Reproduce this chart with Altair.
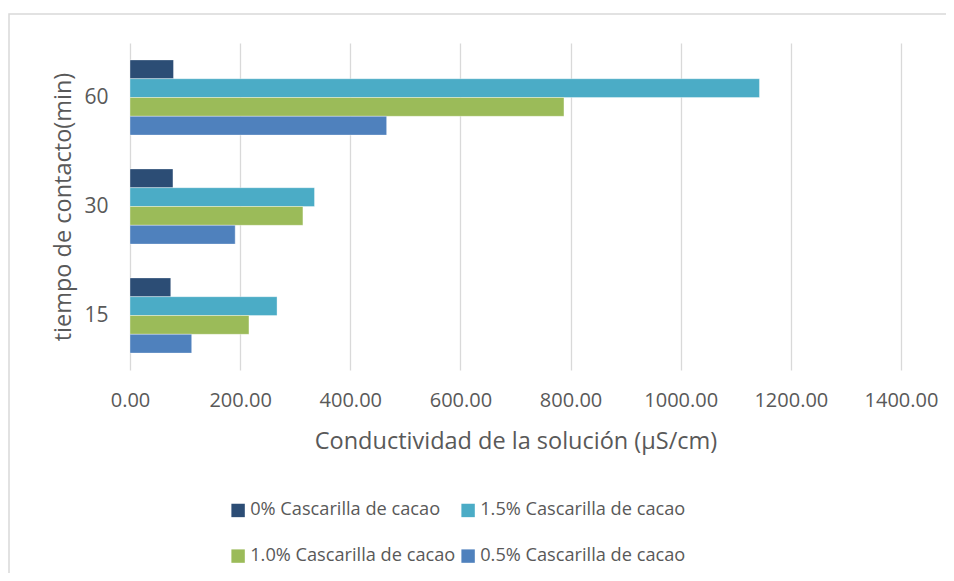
import altair as alt
import pandas as pd

tiempos = ["15", "30", "60"]
series = ["0% Cascarilla de cacao", "1.5% Cascarilla de cacao",
          "1.0% Cascarilla de cacao", "0.5% Cascarilla de cacao"]
v_0 = [74, 78, 79]
v_15 = [267, 335, 1143]
v_10 = [216, 314, 788]
v_05 = [112, 191, 466]
colores = ["#2C4D75", "#4BACC6", "#9BBB59", "#4F81BD"]

rows = []
for s, vals in zip(series, [v_0, v_15, v_10, v_05]):
    for t, v in zip(tiempos, vals):
        rows.append({"tiempo": t, "serie": s, "valor": v})
df = pd.DataFrame(rows)

FONT = "Open Sans"
TXT = "#595959"

frame = alt.Chart(pd.DataFrame({"a": [0]})).mark_rect(
    fill="white", fillOpacity=0, stroke="#D9D9D9", strokeWidth=1.5, clip=False
).encode(
    x=alt.value(-121), x2=alt.value(830), y=alt.value(-29), y2=alt.value(560)
)

bars = alt.Chart(df).mark_bar(stroke="white", strokeWidth=0.6, strokeOpacity=0.6).encode(
    y=alt.Y("tiempo:N", sort=["60", "30", "15"],
            scale=alt.Scale(paddingInner=0.31, paddingOuter=0.155),
            axis=alt.Axis(title="tiempo de contacto(min)", labelFontSize=21,
                          labelColor=TXT, labelPadding=22, ticks=False, domain=False,
                          titleFontSize=23.5, titleColor=TXT, titleFontWeight="normal",
                          titleAngle=-90, titleX=-67, titleY=163.5,
                          titleAlign="center", titleBaseline="middle",
                          labelFont=FONT, titleFont=FONT, grid=False)),
    yOffset=alt.YOffset("serie:N", sort=series),
    x=alt.X("valor:Q", scale=alt.Scale(domain=[0, 1400], nice=False),
            axis=alt.Axis(title="Conductividad de la solución (µS/cm)",
                          values=[0, 200, 400, 600, 800, 1000, 1200, 1400],
                          format=".2f", labelFontSize=20, labelColor=TXT,
                          labelPadding=20, ticks=False, domain=False,
                          labelOverlap=False, labelFlush=False,
                          gridColor="#D9D9D9", gridWidth=1.3,
                          titleFontSize=23.5, titleColor=TXT, titleFontWeight="normal",
                          titleY=71, titleBaseline="middle",
                          labelFont=FONT, titleFont=FONT)),
    color=alt.Color("serie:N", sort=series,
                    scale=alt.Scale(domain=series, range=colores),
                    legend=alt.Legend(title=None, orient="none", legendX=99, legendY=458,
                                      direction="horizontal",
                                      columns=2, columnPadding=3, rowPadding=27,
                                      symbolType="square", symbolSize=180,
                                      symbolStrokeWidth=0, labelFontSize=18.2,
                                      labelColor=TXT, labelFont=FONT, labelOffset=3,
                                      labelLimit=400, padding=0)),
)

chart = alt.layer(frame, bars).properties(
    width=771, height=327,
    autosize=alt.AutoSizeParams(type="none"),
    padding={"left": 122, "top": 35, "right": 45, "bottom": 203},
).configure_view(stroke=None)

chart.save("out.html", embed_options={"renderer": "svg", "actions": False})
